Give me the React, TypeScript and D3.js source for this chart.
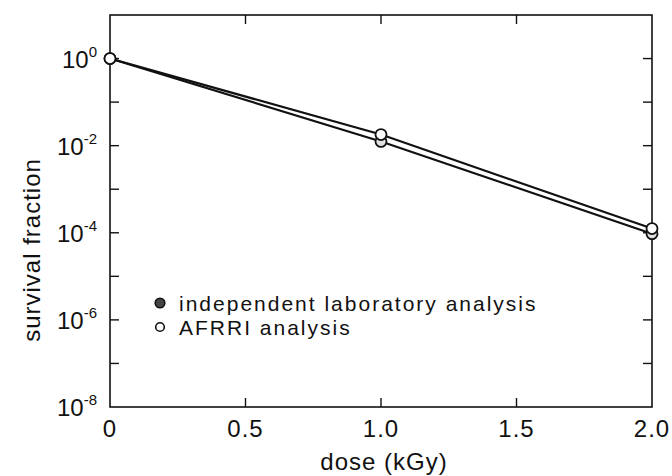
import * as d3 from "d3";
import { useEffect, useRef } from "react";

const WIDTH = 672;
const HEIGHT = 476;

const doses = [0, 1.0, 2.0];
const independentLab = [1, 1.25e-2, 9.5e-5];
const afrri = [1, 1.8e-2, 1.25e-4];

const xTicks = [0, 0.5, 1.0, 1.5, 2.0];
const xTickLabels = ["0", "0.5", "1.0", "1.5", "2.0"];
const yMinorExps = [-8, -7, -6, -5, -4, -3, -2, -1, 0, 1];
const yLabelExps = [0, -2, -4, -6, -8];

const legendItems = [
  { label: "independent laboratory analysis", filled: true },
  { label: "AFRRI analysis", filled: false },
];

const FONT = "'Liberation Sans', Arial, Helvetica, sans-serif";

const App = () => {
  const svgRef = useRef<SVGSVGElement>(null);

  useEffect(() => {
    const svgEl = svgRef.current;
    if (!svgEl) return;
    const svg = d3.select(svgEl);
    svg.selectAll("*").remove();

    const margin = { top: 15, right: 20, bottom: 69, left: 110 };
    const innerW = WIDTH - margin.left - margin.right;
    const innerH = HEIGHT - margin.top - margin.bottom;

    const x = d3.scaleLinear().domain([0, 2]).range([0, innerW]);
    const y = d3.scaleLog().domain([1e-8, 10]).range([innerH, 0]);

    const g = svg
      .append("g")
      .attr("transform", `translate(${margin.left},${margin.top})`);

    // frame
    g.append("rect")
      .attr("x", 0)
      .attr("y", 0)
      .attr("width", innerW)
      .attr("height", innerH)
      .attr("fill", "none")
      .attr("stroke", "#111")
      .attr("stroke-width", 1.6);

    const TICK = 9;
    // x ticks, bottom and top, pointing in
    xTicks.slice(1, -1).forEach((t) => {
      g.append("line")
        .attr("x1", x(t)).attr("x2", x(t))
        .attr("y1", innerH).attr("y2", innerH - TICK)
        .attr("stroke", "#111").attr("stroke-width", 1.4);
      g.append("line")
        .attr("x1", x(t)).attr("x2", x(t))
        .attr("y1", 0).attr("y2", TICK)
        .attr("stroke", "#111").attr("stroke-width", 1.4);
    });
    // y ticks, left and right
    yMinorExps.slice(1, -1).forEach((e) => {
      const yy = y(Math.pow(10, e));
      g.append("line")
        .attr("x1", 0).attr("x2", TICK)
        .attr("y1", yy).attr("y2", yy)
        .attr("stroke", "#111").attr("stroke-width", 1.4);
      g.append("line")
        .attr("x1", innerW).attr("x2", innerW - TICK)
        .attr("y1", yy).attr("y2", yy)
        .attr("stroke", "#111").attr("stroke-width", 1.4);
    });

    // x tick labels
    g.selectAll("text.tick-x")
      .data(xTicks)
      .enter()
      .append("text")
      .attr("x", (t) => x(t))
      .attr("y", innerH + 30)
      .attr("text-anchor", "middle")
      .style("font-family", FONT)
      .style("font-size", "24px")
      .style("letter-spacing", "1px")
      .attr("fill", "#111")
      .text((_, i) => xTickLabels[i]);

    // y tick labels 10^n
    yLabelExps.forEach((e) => {
      const t = g
        .append("text")
        .attr("x", -13)
        .attr("y", y(Math.pow(10, e)) + 9)
        .attr("text-anchor", "end")
        .style("font-family", FONT)
        .style("font-size", "24px")
        .attr("fill", "#111");
      t.append("tspan").text("10");
      t.append("tspan")
        .attr("dy", -11)
        .style("font-size", "15px")
        .text(String(e));
    });

    // axis titles
    svg
      .append("text")
      .attr("x", 384)
      .attr("y", HEIGHT - 6)
      .attr("text-anchor", "middle")
      .style("font-family", FONT)
      .style("font-size", "24px")
      .style("letter-spacing", "1px")
      .attr("fill", "#111")
      .text("dose (kGy)");
    svg
      .append("text")
      .attr("transform", "translate(40,250) rotate(-90)")
      .attr("text-anchor", "middle")
      .style("font-family", FONT)
      .style("font-size", "24px")
      .style("letter-spacing", "1px")
      .attr("fill", "#111")
      .text("survival fraction");

    // lines
    const line = d3
      .line<number>()
      .x((_, i) => x(doses[i]))
      .y((v) => y(v));
    [independentLab, afrri].forEach((series) => {
      g.append("path")
        .attr("d", line(series))
        .attr("fill", "none")
        .attr("stroke", "#111")
        .attr("stroke-width", 2.2);
    });

    // markers
    const drawMarkers = (series: number[], fill: string) => {
      g.selectAll(null)
        .data(series)
        .enter()
        .append("circle")
        .attr("cx", (_, i) => x(doses[i]))
        .attr("cy", (v) => y(v))
        .attr("r", 5.5)
        .attr("fill", fill)
        .attr("stroke", "#111")
        .attr("stroke-width", 1.8);
    };
    drawMarkers(independentLab, "#e2e2e2");
    drawMarkers(afrri, "#fff");

    // legend
    const legend = g.append("g").attr("transform", "translate(50,288)");
    legendItems.forEach((item, i) => {
      legend
        .append("circle")
        .attr("cx", 0)
        .attr("cy", i * 24)
        .attr("r", item.filled ? 4.8 : 4.3)
        .attr("fill", item.filled ? "#444" : "#fff")
        .attr("stroke", "#111")
        .attr("stroke-width", 1.6);
      legend
        .append("text")
        .attr("x", 19)
        .attr("y", i * 24 + 7.5)
        .style("font-family", FONT)
        .style("font-size", "21px")
        .style("letter-spacing", "2px")
        .attr("fill", "#111")
        .text(item.label);
    });
  }, []);

  return (
    <div style={{ position: "absolute", left: 0, top: 0, background: "#fff" }}>
      <svg ref={svgRef} width={WIDTH} height={HEIGHT} />
    </div>
  );
};

export default App;
